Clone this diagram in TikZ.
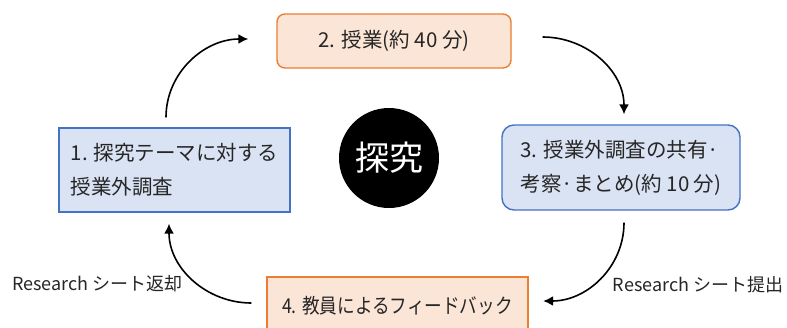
\documentclass[tikz,border=0pt]{standalone}
\usepackage{fontspec}
\setmainfont{Noto Sans CJK JP}
\usetikzlibrary{arrows.meta}
\definecolor{peach}{HTML}{FBE5D6}
\definecolor{orng}{HTML}{ED7D31}
\definecolor{lblue}{HTML}{DAE3F3}
\definecolor{mblue}{HTML}{4472C4}
\definecolor{txt}{HTML}{262626}
\begin{document}
\begin{tikzpicture}[x=1pt,y=1pt,
  box/.style={line width=1.4pt, inner sep=0pt, text=txt, align=left,
    font=\fontsize{20.5}{34}\selectfont},
  orangebox/.style={box, draw=orng, fill=peach},
  bluebox/.style={box, draw=mblue, fill=lblue},
  arr/.style={line width=1.6pt, -{Latex[length=10pt,width=10pt]}},
  lbl/.style={text=txt, font=\fontsize{18}{20}\selectfont, inner sep=0pt}]
\useasboundingbox (0,0) rectangle (787,-327);
\clip (0,0) rectangle (787,-327);
\fill[white] (0,0) rectangle (787,-327);
\node[orangebox, rounded corners=8pt, minimum width=234pt, minimum height=54pt] (b2) at (394,-41) {2. 授業(約 40 分)};
\node[bluebox, minimum width=231pt, minimum height=84pt] (b1) at (174.5,-170) {1. 探究テーマに対する\\授業外調査};
\node[bluebox, rounded corners=12pt, minimum width=238pt, minimum height=85pt] (b3) at (621,-167.5) {3. 授業外調査の共有·\\考察·まとめ(約 10 分)};
\node[orangebox, minimum width=261pt, minimum height=58pt] (b4) at (397.5,-306) {\scalebox{0.86}[1]{4. 教員によるフィードバック}};
\node[circle, fill=black, inner sep=0pt, minimum size=100pt, text=white,
  font=\fontsize{34}{34}\selectfont] (c) at (389,-158) {探究};
\node[lbl] (l1) at (97.5,-284) {Research シート返却};
\node[lbl] (l2) at (698,-285) {Research シート提出};
\draw[arr] ([shift={(-8.5,10)}]b1.north) to[out=90,in=180] ([shift={(-28,2)}]b2.west);
\draw[arr] ([shift={(31,4)}]b2.east) to[out=0,in=90] ([shift={(3,10)}]b3.north);
\draw[arr] ([shift={(3,-12)}]b3.south) to[out=-90,in=0] ([shift={(14.5,5)}]b4.east);
\draw[arr] ([shift={(-15,3)}]b4.west) to[out=180,in=-90] ([shift={(-5.5,-11)}]b1.south);
\end{tikzpicture}
\end{document}
